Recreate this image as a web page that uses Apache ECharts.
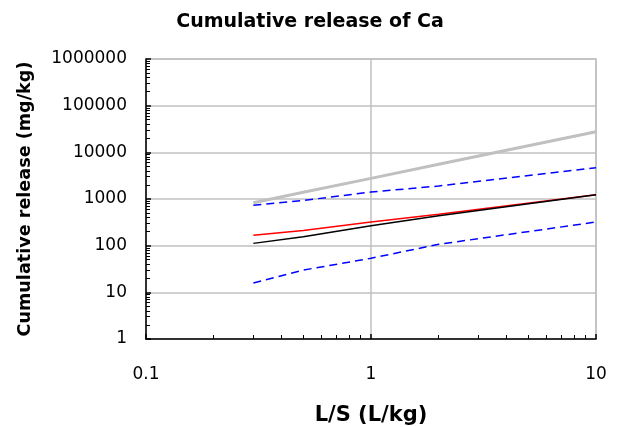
<!DOCTYPE html>
<html>
<head>
<meta charset="utf-8">
<script src="https://cdn.jsdelivr.net/npm/echarts@6/dist/echarts.min.js"></script>
<style>
  html, body { margin: 0; padding: 0; background: #fff; }
  #chart { width: 620px; height: 427px; }
</style>
</head>
<body>
<div id="chart"></div>
<script>
// L/S steps (L/kg) and cumulative release values (mg/kg)
var ls = [0.3, 0.5, 1, 2, 10];
var grayLine = [830, 1390, 2770, 5540, 27700];
var blueUpper = [733, 930, 1413, 1897, 4690];
var redLine = [167, 212, 321, 470, 1236];
var blackLine = [112, 155, 268, 439, 1236];
var blueLower = [15.9, 30, 53.6, 107, 321];

var font = 'DejaVu Sans, Verdana, sans-serif';

function pairs(ys) {
    return ls.map(function (x, i) { return [x, ys[i]]; });
}

function serie(ys, color, width, type) {
    return {
        type: 'line',
        data: pairs(ys),
        symbol: 'none',
        lineStyle: { color: color, width: width, type: type || 'solid' },
        z: 3
    };
}

function axisStyle(name, nameGap, nameSize, labelMargin) {
    return {
        type: 'log',
        logBase: 10,
        name: name,
        nameLocation: 'middle',
        nameGap: nameGap,
        nameMoveOverlap: false,
        nameTextStyle: { fontFamily: font, fontSize: nameSize, fontWeight: 'bold', color: '#000' },
        axisLine: { onZero: false, lineStyle: { color: '#000', width: 1.5 } },
        axisTick: { inside: true, length: 5, lineStyle: { color: '#000', width: 1.5 } },
        minorTick: { show: true, splitNumber: 9, length: 4, lineStyle: { color: '#000' } },
        axisLabel: {
            fontFamily: font, fontSize: 17, color: '#000', margin: labelMargin,
            formatter: function (v) { return String(v); }
        },
        splitLine: { show: true, lineStyle: { color: '#c0c0c0', width: 1.5 } }
    };
}

var chart = echarts.init(document.getElementById('chart'));

var xAxis = axisStyle('L/S (L/kg)', 66, 21, 27);
xAxis.min = 0.1;
xAxis.max = 10;

var yAxis = axisStyle('Cumulative release (mg/kg)', 112, 17.6, 19);
yAxis.min = 1;
yAxis.max = 1000000;

chart.setOption({
    animation: false,
    title: {
        text: 'Cumulative release of Ca',
        left: 'center',
        top: 8,
        textStyle: { fontFamily: font, fontSize: 19, fontWeight: 'bold', color: '#000' }
    },
    grid: {
        left: 146, right: 24, top: 59, bottom: 88,
        outerBoundsMode: 'none',
        show: true, borderColor: '#c0c0c0', borderWidth: 1.5
    },
    xAxis: xAxis,
    yAxis: yAxis,
    series: [
        serie(grayLine, '#c0c0c0', 3),
        serie(blueUpper, '#0000ff', 1.5, [8, 5]),
        serie(redLine, '#ff0000', 1.5),
        serie(blackLine, '#000000', 1.5),
        serie(blueLower, '#0000ff', 1.5, [8, 5])
    ]
});
</script>
</body>
</html>
